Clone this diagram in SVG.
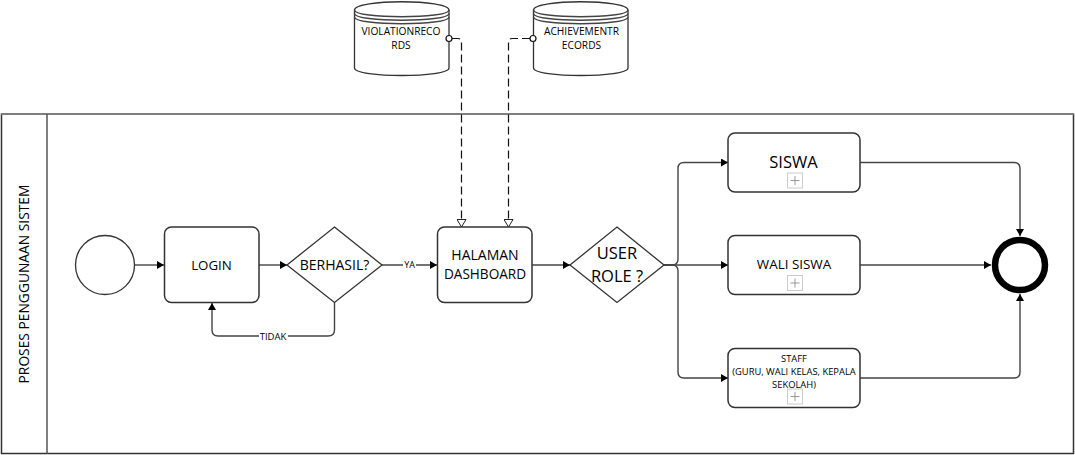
<svg xmlns="http://www.w3.org/2000/svg" width="1075" height="455" viewBox="0 0 1075 455">
<style>
text{font-family:"Open Sans","Noto Sans","Liberation Sans",sans-serif;fill:#000;text-anchor:middle}
.s{fill:#fff;stroke:#333;stroke-width:1.3}
.b{fill:#fff;stroke:#333;stroke-width:1.5}
.c{fill:none;stroke:#444;stroke-width:1.4}
.d{fill:none;stroke:#111;stroke-width:1.2;stroke-dasharray:8 4}
.p{fill:#fff;stroke:#ccc;stroke-width:1}
.pp{fill:none;stroke:#999;stroke-width:1}
</style>
<defs>
<marker id="a" markerUnits="userSpaceOnUse" markerWidth="7" markerHeight="8" refX="7" refY="4" orient="auto"><path d="M0 0L7 4L0 8Z" fill="#000"/></marker>
<marker id="o" markerUnits="userSpaceOnUse" markerWidth="9" markerHeight="10" refX="8" refY="5" orient="auto"><path d="M.5 .5L8 5L.5 9.500Z" fill="#fff" stroke="#222"/></marker>
</defs>
<g id="pool">
<rect x="1.500" y="114" width="1072" height="339.500" fill="#fff" stroke="#333" stroke-width="1.500"/>
<path d="M1 114H1074" stroke="#888" stroke-width="1.500" fill="none"/>
<path d="M47 114V453.500" stroke="#555" stroke-width="1.500" fill="none"/>
<text transform="translate(29 284) rotate(-90)" font-size="13.800">PROSES PENGGUNAAN SISTEM</text>
</g>
<g id="connectors">
<path class="c" marker-end="url(#a)" d="M135 265H164"/>
<path class="c" marker-end="url(#a)" d="M259 265H287"/>
<path class="c" marker-end="url(#a)" d="M334.500 302.500V330Q334.500 336 328 336H218Q212 336 212 330V303"/>
<path class="c" marker-end="url(#a)" d="M382 265H437"/>
<path class="c" marker-end="url(#a)" d="M532 265H570"/>
<path class="c" marker-end="url(#a)" d="M664 265H728"/>
<path class="c" marker-end="url(#a)" d="M664 265H672Q678 265 678 259V168.500Q678 162.500 684 162.500H728"/>
<path class="c" marker-end="url(#a)" d="M664 265H672Q678 265 678 271V372Q678 378 684 378H728"/>
<path class="c" marker-end="url(#a)" d="M860 162.500H1014Q1020 162.500 1020 168.500V236"/>
<path class="c" marker-end="url(#a)" d="M860 265H991"/>
<path class="c" marker-end="url(#a)" d="M860 378H1014Q1020 378 1020 372V294"/>
<path class="d" marker-end="url(#o)" d="M452 38.500H458Q461.500 38.500 461.500 42V227"/>
<path class="d" marker-end="url(#o)" d="M530 38.500H512Q508.500 38.500 508.500 42V227"/>
<rect x="259" y="331" width="29" height="10" fill="#fff"/>
<text x="273" y="339.500" font-size="9.500">TIDAK</text>
<rect x="403" y="260" width="13" height="10" fill="#fff"/>
<text x="409.500" y="268" font-size="9">YA</text>
</g>
<g id="start"><circle class="s" cx="105" cy="265" r="29.500"/></g>
<g id="login"><rect class="b" x="164.500" y="227" width="94.500" height="75.500" rx="7"/><text x="211.500" y="270" font-size="13.300">LOGIN</text></g>
<g id="berhasil"><path class="s" d="M334.500 227L382 265L334.500 302.500L287 265Z"/><text x="334.500" y="270" font-size="14">BERHASIL?</text></g>
<g id="dashboard"><rect class="b" x="437.500" y="227" width="94.500" height="75.500" rx="7"/><text x="485" y="260" font-size="14">HALAMAN</text><text x="485" y="279" font-size="13.600">DASHBOARD</text></g>
<g id="userrole"><path class="s" d="M617 227L664 265L617 302.500L570 265Z"/><text x="617" y="259" font-size="16.500">USER</text><text x="617" y="282" font-size="16.500">ROLE  ?</text></g>
<g id="siswa"><rect class="b" x="728" y="133" width="132" height="59" rx="7"/><text x="793.500" y="168" font-size="16.500">SISWA</text><rect class="p" x="787.500" y="173" width="15" height="15"/><path class="pp" d="M790.500 180.500H799.500M795 176V185"/></g>
<g id="wali"><rect class="b" x="728" y="235.500" width="132" height="59" rx="7"/><text x="794" y="269" font-size="13.400">WALI SISWA</text><rect class="p" x="787.500" y="275.500" width="15" height="15"/><path class="pp" d="M790.500 283H799.500M795 278.500V287.500"/></g>
<g id="staff"><rect class="b" x="728" y="348.500" width="132" height="59" rx="7"/><text font-size="9.400"><tspan x="794" y="361.500">STAFF</tspan><tspan x="794" y="374.500">(GURU, WALI KELAS, KEPALA</tspan><tspan x="794" y="387.500">SEKOLAH)</tspan></text><rect class="p" x="787.500" y="389" width="15" height="15"/><path class="pp" d="M790.500 396.500H799.500M795 392V401"/></g>
<g id="end"><circle cx="1020" cy="265" r="25" fill="#fff" stroke="#000" stroke-width="6.500"/></g>
<g id="db1"><path class="s" d="M354.500 10C354.500 -1 449 -1 449 10V68C449 78 354.500 78 354.500 68Z"/><path class="c" d="M354.500 10C354.500 19 449 19 449 10M354.500 13.500C354.500 22.500 449 22.500 449 13.500M354.500 17C354.500 26 449 26 449 17"/><text x="401" y="35" font-size="10.200">VIOLATIONRECO</text><text x="401" y="49" font-size="10.200">RDS</text><circle cx="449" cy="38.500" r="3" fill="#fff" stroke="#111" stroke-width="1.200"/></g>
<g id="db2"><path class="s" d="M533.500 10C533.500 -1 628 -1 628 10V68C628 78 533.500 78 533.500 68Z"/><path class="c" d="M533.500 10C533.500 19 628 19 628 10M533.500 13.500C533.500 22.500 628 22.500 628 13.500M533.500 17C533.500 26 628 26 628 17"/><text x="581.500" y="35" font-size="10.200">ACHIEVEMENTR</text><text x="581.500" y="49" font-size="10.200">ECORDS</text><circle cx="533" cy="38.500" r="3" fill="#fff" stroke="#111" stroke-width="1.200"/></g>
</svg>
